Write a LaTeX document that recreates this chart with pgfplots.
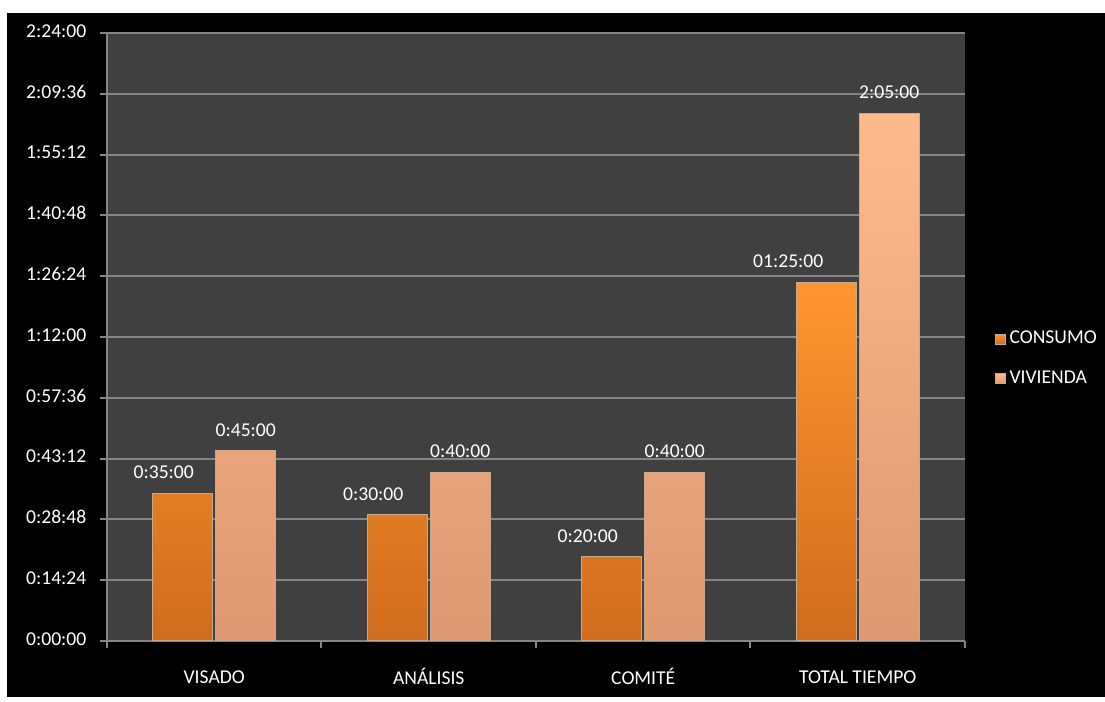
\documentclass[border=0pt]{standalone}
\usepackage{pgfplots}
\pgfplotsset{compat=1.18}
\usepackage{pgfplotstable}
\usepackage{fontspec}
\setmainfont{Carlito}
\definecolor{plotbg}{HTML}{404040}
\definecolor{gridc}{HTML}{858585}
\definecolor{consTop}{HTML}{FF9630}
\definecolor{consMid}{HTML}{F08A28}
\definecolor{consBot}{HTML}{CF6C1E}
\definecolor{vivTop}{HTML}{FFBA8C}
\definecolor{vivMid}{HTML}{F7AE84}
\definecolor{vivBot}{HTML}{DE9872}
\definecolor{edgeC}{HTML}{C9A98C}

\pgfplotstableread{
x y lab dx
0 35 0:35:00 -9.5
1 30 0:30:00 -12
2 20 0:20:00 -12
3 85 01:25:00 -19
}\consumo

\pgfplotstableread{
x y lab dx
0 45 0:45:00 0
1 40 0:40:00 0
2 40 0:40:00 0
3 125 2:05:00 0
}\vivienda

\begin{document}
\begin{tikzpicture}
\path[use as bounding box] (0,0) rectangle (552.5pt,351pt);
\fill[white] (0,0) rectangle (552.5pt,351pt);
\fill[black] (3.5pt,2.5pt) rectangle (552.5pt,344.5pt);
\begin{axis}[
  at={(53.5pt,30.5pt)}, anchor=south west,
  scale only axis, width=429pt, height=304pt,
  xmin=-0.5, xmax=3.5, ymin=0, ymax=144,
  axis background/.style={fill=plotbg},
  axis x line*=bottom, axis y line*=left,
  axis line style={gridc, line width=1pt},
  ytick={0,14.4,28.8,43.2,57.6,72,86.4,100.8,115.2,129.6,144},
  yticklabels={0:00:00,0:14:24,0:28:48,0:43:12,0:57:36,1:12:00,1:26:24,1:40:48,1:55:12,2:09:36,2:24:00},
  ymajorgrids, grid style={gridc, line width=1pt},
  xtick={0,1,2,3},
  xticklabels={VISADO,ANÁLISIS,COMITÉ,TOTAL TIEMPO},
  minor xtick={-0.5,0.5,1.5,2.5,3.5},
  tick align=outside,
  major tick length=3.5pt, minor tick length=3.5pt,
  tick style={gridc, line width=1pt},
  major x tick style={draw=none},
  tick label style={font=\fontsize{9.8}{11}\selectfont, text=white},
  yticklabel style={xshift=-3.3pt},
  xticklabel style={yshift=-6.5pt},
  typeset ticklabels with strut,
  ybar=1.5pt, bar width=30pt,
  legend style={at={(1.034,0.464)}, anchor=west, fill=black, draw=none,
    text=white, font=\fontsize{9.8}{11}\selectfont, row sep=8pt, inner sep=0pt},
  legend cell align=left,
  legend image code/.code={\path[#1] (0pt,-2.5pt) rectangle (5pt,2.5pt);},
]
\addplot[top color=consTop, middle color=consMid, bottom color=consBot, draw=edgeC, line width=0.5pt,
  nodes near coords, point meta=explicit symbolic,
  visualization depends on={\thisrow{dx}\as\dx},
  every node near coord/.append style={font=\fontsize{9.8}{11}\selectfont, text=white, anchor=south, yshift=3.5pt, xshift=\dx}]
  table[x=x, y=y, meta=lab] {\consumo};
\addplot[top color=vivTop, middle color=vivMid, bottom color=vivBot, draw=edgeC, line width=0.5pt,
  nodes near coords, point meta=explicit symbolic,
  every node near coord/.append style={font=\fontsize{9.8}{11}\selectfont, text=white, anchor=south, yshift=3.5pt}]
  table[x=x, y=y, meta=lab] {\vivienda};
\legend{CONSUMO, VIVIENDA}
\end{axis}
\end{tikzpicture}
\end{document}
